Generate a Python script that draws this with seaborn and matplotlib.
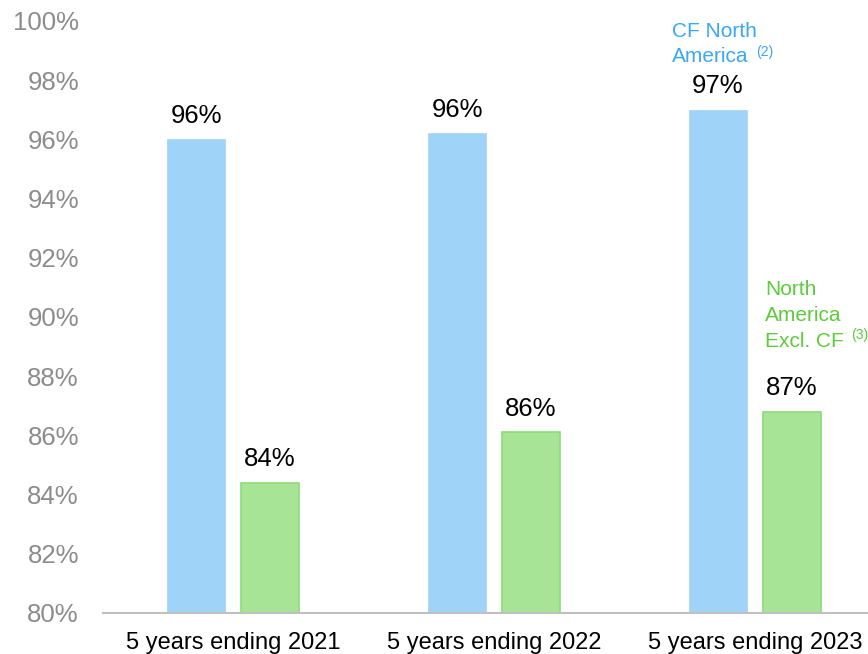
import matplotlib
matplotlib.use("Agg")
import matplotlib.pyplot as plt
import seaborn as sns
import pandas as pd

# Five-year rolling averages, in percent
periods = ["5 years ending 2021", "5 years ending 2022", "5 years ending 2023"]
cf_north_america = [96.0, 96.2, 97.0]
na_excl_cf = [84.4, 86.1, 86.8]
series_names = ["CF North America", "North America Excl. CF"]
y_ticks = [80, 82, 84, 86, 88, 90, 92, 94, 96, 98, 100]

BLUE = "#9fd3f7"
GREEN = "#a8e495"
GREEN_EDGE = "#8ddb78"
BLUE_TEXT = "#3aa8f2"
GREEN_TEXT = "#5ccb3c"

df = pd.DataFrame({
    "period": periods * 2,
    "series": [series_names[0]] * 3 + [series_names[1]] * 3,
    "value": cf_north_america + na_excl_cf,
})

sns.set_theme(style="white")
plt.rcParams["font.family"] = ["Liberation Sans", "DejaVu Sans"]

fig = plt.figure(figsize=(8.68, 6.54), dpi=100)
ax = fig.add_axes([102.5 / 868, 41 / 654, 783 / 868, 592 / 654])

sns.barplot(
    data=df, x="period", y="value", hue="series",
    palette=[BLUE, GREEN], saturation=1, width=0.567, gap=0.22,
    order=periods, hue_order=series_names, legend=False, ax=ax,
)

# Style the bars: light green edge on the second series
for patch in ax.containers[1]:
    patch.set_edgecolor(GREEN_EDGE)
    patch.set_linewidth(1.2)
for patch in ax.containers[0]:
    patch.set_edgecolor(BLUE)
    patch.set_linewidth(0.5)

# Value labels above each bar
for container in ax.containers:
    for patch in container:
        v = patch.get_height()
        ax.annotate(
            f"{v:.0f}%",
            xy=(patch.get_x() + patch.get_width() / 2, v),
            xytext=(0, 12), textcoords="offset points",
            ha="center", va="baseline", fontsize=18.5, color="black",
        )

ax.set_ylim(80, 100)
ax.set_xlim(-0.5, 2.5)
ax.set_yticks(y_ticks)
ax.set_yticklabels([f"{t}%" for t in y_ticks])
ax.set_xlabel("")
ax.set_ylabel("")

ax.tick_params(axis="y", length=0, pad=17, labelsize=18.5, labelcolor="#8c8c8c")
ax.tick_params(axis="x", length=0, pad=14, labelsize=17, labelcolor="black")

for side in ["left", "right", "top"]:
    ax.spines[side].set_visible(False)
ax.spines["bottom"].set_color("#c0c0c0")
ax.spines["bottom"].set_linewidth(1.5)
ax.grid(False)

# Series captions next to the 2023 bars
ax.text(672 / 868, 1 - 37 / 654, "CF North", transform=fig.transFigure,
        fontsize=15, color=BLUE_TEXT, ha="left", va="baseline")
ax.text(672 / 868, 1 - 62 / 654, "America", transform=fig.transFigure,
        fontsize=15, color=BLUE_TEXT, ha="left", va="baseline")
ax.text(756 / 868, 1 - 56 / 654, "(2)", transform=fig.transFigure,
        fontsize=10, color=BLUE_TEXT, ha="left", va="baseline")

for i, line in enumerate(["North", "America", "Excl. CF"]):
    ax.text(765 / 868, 1 - (295 + 26 * i) / 654, line, transform=fig.transFigure,
            fontsize=15, color=GREEN_TEXT, ha="left", va="baseline")
ax.text(851 / 868, 1 - 339 / 654, "(3)", transform=fig.transFigure,
        fontsize=10, color=GREEN_TEXT, ha="left", va="baseline")

fig.savefig("out.png", dpi=100)
